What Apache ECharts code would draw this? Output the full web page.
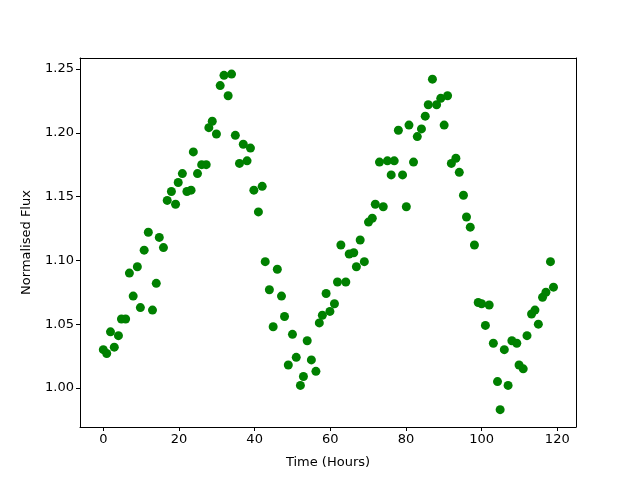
<!DOCTYPE html>
<html>
<head>
  <meta charset="utf-8">
  <title>Normalised Flux</title>
  <script src="https://cdn.jsdelivr.net/npm/echarts@6/dist/echarts.min.js"></script>
</head>
<body style="margin:0">
<div id="main" style="width: 640px;height:480px;"></div>
<script type="text/javascript">
  // values
  var hours = [
    0.0, 0.9, 1.9, 2.9, 4.0, 4.8, 5.9, 6.9, 7.9, 9.0,
    9.8, 10.8, 11.9, 13.0, 14.0, 14.8, 15.9, 16.9, 18.0, 19.1,
    19.8, 20.9, 22.1, 23.2, 23.8, 24.9, 26.0, 27.2, 27.9, 28.8,
    29.9, 30.9, 31.9, 33.0, 33.9, 34.9, 36.0, 37.0, 38.0, 38.9,
    39.8, 41.0, 42.0, 42.8, 43.9, 44.9, 46.0, 47.1, 47.9, 48.9,
    50.0, 51.0, 52.1, 52.9, 53.9, 55.0, 56.2, 57.1, 57.9, 58.9,
    59.9, 61.1, 61.9, 62.8, 64.1, 65.0, 66.2, 66.9, 67.9, 69.0,
    70.1, 71.1, 71.9, 73.0, 74.0, 75.1, 76.1, 76.9, 78.0, 79.1,
    80.1, 80.8, 82.0, 83.0, 84.1, 85.1, 85.9, 87.0, 88.1, 89.2,
    90.1, 91.0, 92.0, 93.2, 94.1, 95.2, 96.0, 97.0, 98.1, 99.1,
    100.0, 101.0, 102.0, 103.1, 104.2, 104.9, 106.0, 107.0, 108.0, 109.3,
    109.9, 111.0, 112.0, 113.2, 114.1, 115.0, 116.1, 117.0, 118.2, 119.0
  ];
  var flux = [
    1.030, 1.027, 1.044, 1.032, 1.041, 1.054, 1.054, 1.090, 1.072, 1.095,
    1.063, 1.108, 1.122, 1.061, 1.082, 1.118, 1.110, 1.147, 1.154, 1.144,
    1.161, 1.168, 1.154, 1.155, 1.185, 1.168, 1.175, 1.175, 1.204, 1.209,
    1.199, 1.237, 1.245, 1.229, 1.246, 1.198, 1.176, 1.191, 1.178, 1.188,
    1.155, 1.138, 1.158, 1.099, 1.077, 1.048, 1.093, 1.072, 1.056, 1.018,
    1.042, 1.024, 1.002, 1.009, 1.037, 1.022, 1.013, 1.051, 1.057, 1.074,
    1.060, 1.066, 1.083, 1.112, 1.083, 1.105, 1.106, 1.095, 1.116, 1.099,
    1.130, 1.133, 1.144, 1.177, 1.142, 1.178, 1.167, 1.178, 1.202, 1.167,
    1.142, 1.206, 1.177, 1.197, 1.203, 1.213, 1.222, 1.242, 1.222, 1.227,
    1.206, 1.229, 1.176, 1.180, 1.169, 1.151, 1.134, 1.126, 1.112, 1.067,
    1.066, 1.049, 1.065, 1.035, 1.005, 0.983, 1.030, 1.002, 1.037, 1.035,
    1.018, 1.015, 1.041, 1.058, 1.061, 1.050, 1.071, 1.075, 1.099, 1.079
  ];
  var xTicks = [0, 20, 40, 60, 80, 100, 120];
  var yTicks = [1.00, 1.05, 1.10, 1.15, 1.20, 1.25];

  var points = hours.map(function (h, i) { return [h, flux[i]]; });

  var myChart = echarts.init(document.getElementById('main'));
  var font = 'DejaVu Sans';
  var xMin = -6.16, xMax = 124.95, yMin = 0.9694, yMax = 1.2586;

  // plain axis used only as the top / right frame line
  function frameAxis(pos, min, max) {
    return {
      type: 'value', position: pos, min: min, max: max,
      axisLine: { show: true, onZero: false, lineStyle: { color: '#000' } },
      axisTick: { show: false }, axisLabel: { show: false }, splitLine: { show: false }
    };
  }

  var option = {
    animation: false,
    backgroundColor: '#ffffff',
    grid: { left: 80, right: 64, top: 58, bottom: 53 },
    xAxis: [{
      type: 'value',
      position: 'bottom',
      min: xMin,
      max: xMax,
      name: 'Time (Hours)',
      nameLocation: 'middle',
      nameGap: 29,
      nameTextStyle: { color: '#000', fontFamily: font, fontSize: 13 },
      axisLine: { show: true, onZero: false, lineStyle: { color: '#000' } },
      axisTick: { show: true, length: 4, lineStyle: { color: '#000' }, customValues: xTicks },
      axisLabel: { color: '#000', fontFamily: font, fontSize: 13, margin: 6, customValues: xTicks },
      splitLine: { show: false }
    }, frameAxis('top', xMin, xMax)],
    yAxis: [{
      type: 'value',
      position: 'left',
      min: yMin,
      max: yMax,
      name: 'Normalised Flux',
      nameLocation: 'middle',
      nameGap: 47,
      nameRotate: 90,
      nameTextStyle: { color: '#000', fontFamily: font, fontSize: 13 },
      axisLine: { show: true, onZero: false, lineStyle: { color: '#000' } },
      axisTick: { show: true, length: 4, lineStyle: { color: '#000' }, customValues: yTicks },
      axisLabel: {
        color: '#000', fontFamily: font, fontSize: 13, margin: 6, customValues: yTicks,
        formatter: function (v) { return v.toFixed(2); }
      },
      splitLine: { show: false }
    }, frameAxis('right', yMin, yMax)],
    series: [
      {
        type: 'scatter',
        xAxisIndex: 0,
        yAxisIndex: 0,
        symbolSize: 9,
        itemStyle: { color: '#008000', opacity: 1 },
        data: points
      }
    ]
  };

  myChart.setOption(option);
</script>
</body>
</html>
